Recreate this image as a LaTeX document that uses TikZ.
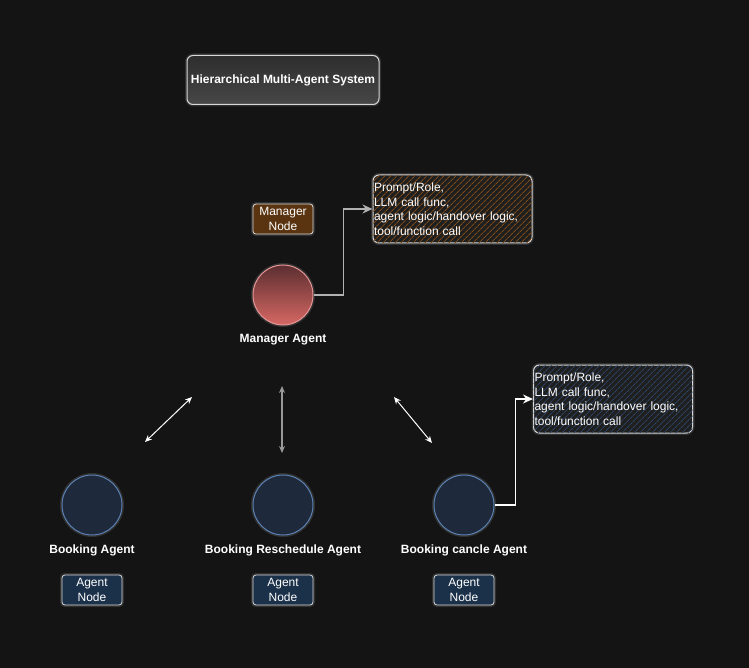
\documentclass[tikz,border=0pt]{standalone}
\usepackage{fontspec}
\setmainfont{Liberation Sans}
\usetikzlibrary{
    arrows.meta,
    patterns.meta,
    positioning
}
\definecolor{canvas}{HTML}{141414}
\definecolor{rim}{HTML}{D8D8D8}
\definecolor{navy}{HTML}{1E293B}
\definecolor{navyrim}{HTML}{5C82B4}
\definecolor{tagnavy}{HTML}{1B3049}
\definecolor{tagbrown}{HTML}{5A3410}
\definecolor{mgrtop}{HTML}{5C2E30}
\definecolor{mgrbottom}{HTML}{D66864}
\definecolor{mgrrim}{HTML}{E69696}
\definecolor{hatchorange}{HTML}{7E4A18}
\definecolor{hatchblue}{HTML}{2C4262}
\tikzset{
    every picture/.style = {
        x = 1pt,
        y = -1pt,
        > = Stealth,
        font = \fontsize{12}{14.5}\selectfont
    },
    glow/.style = {
        preaction = {draw = white, opacity = 0.12, line width = 4pt}
    },
    agent/.style = {
        circle,
        glow,
        minimum size = 60pt,
        inner sep = 0pt,
        fill = navy,
        draw = navyrim,
        line width = 1pt
    },
    caption/.style = {
        inner sep = 1pt,
        text = white,
        font = \fontsize{12}{14.5}\selectfont\bfseries
    },
    tag/.style = {
        rectangle,
        glow,
        rounded corners = 3pt,
        minimum width = 60pt,
        minimum height = 30pt,
        inner sep = 1pt,
        align = center,
        text = white,
        draw = rim,
        line width = 0.8pt,
        fill = #1
    },
    tag/.default = tagnavy,
    info/.style = {
        rectangle,
        glow,
        rounded corners = 6pt,
        minimum height = 68pt,
        text width = 157pt,
        inner xsep = 1pt,
        align = left,
        text = white,
        draw = rim,
        line width = 1pt,
        fill = black!88,
        postaction = {pattern = {Lines[angle=45, distance=4pt, line width=1pt]},
                      pattern color = #1}
    },
    link/.style = {
        line width = 1.5pt,
        draw = white,
        -{Stealth[length=10pt, width=9pt]}
    },
    talk/.style = {
        draw = white,
        line width = 1pt,
        {Stealth[length=7pt, width=6pt]}-{Stealth[length=7pt, width=6pt]}
    }
}

\begin{document}
\begin{tikzpicture}
    % background and frame
    \fill[canvas] (0,0) rectangle (749,668);
    \useasboundingbox (0,0) rectangle (749,668);

    % title
    \node[rectangle, glow, rounded corners = 6pt, minimum width = 192pt, minimum height = 49pt,
          top color = black!82, bottom color = black!72, draw = rim, line width = 1pt,
          text = white, font = \fontsize{12}{14.5}\selectfont\bfseries] (title) at (283,80)
          {Hierarchical Multi-Agent System};

    % manager
    \node[agent, top color = mgrtop, bottom color = mgrbottom, draw = mgrrim] (mgr) at (283,295) {};
    \node[tag = tagbrown] (mgrtag) [above = 30pt of mgr] {Manager\\Node};
    \node[caption] (mgrlbl) [below = 8pt of mgr] {Manager Agent};
    \node[info = hatchorange] (mgrinfo) at (452.5,209)
        {Prompt/Role,\\LLM call func,\\agent logic/handover logic,\\tool/function call};

    % workers
    \node[agent] (book) at (92,505) {};
    \node[agent] (resched) [right = 130pt of book] {};
    \node[agent] (cancel) [right = 120pt of resched] {};

    \node[caption] (booklbl) [below = 8pt of book] {Booking Agent};
    \node[caption] (reschedlbl) [below = 8pt of resched] {Booking Reschedule Agent};
    \node[caption] (cancellbl) [below = 8pt of cancel] {Booking cancle Agent};

    \node[tag] (booktag) at (book |- 0,590) {Agent\\Node};
    \node[tag] (reschedtag) at (resched |- 0,590) {Agent\\Node};
    \node[tag] (canceltag) at (cancel |- 0,590) {Agent\\Node};

    \node[info = hatchblue] (cancelinfo) at (613,399)
        {Prompt/Role,\\LLM call func,\\agent logic/handover logic,\\tool/function call};

    % handover arrows
    \coordinate (l1) at (145,442);
    \coordinate (l2) at (192,397);
    \coordinate (m1) at (282,386);
    \coordinate (m2) at (282,453);
    \coordinate (r1) at (394,397);
    \coordinate (r2) at (432,443);
    \draw[talk] (l1) -- (l2);
    \draw[talk, draw = black!40, line width = 2pt] (m1) -- (m2);
    \draw[talk] (r1) -- (r2);

    % details
    \draw[link, draw = black!30] (mgr.east) -- ++(30,0) |- (mgrinfo.west);
    \draw[link] (cancel.east) -- ++(21,0) |- (cancelinfo.west);
\end{tikzpicture}
\end{document}
